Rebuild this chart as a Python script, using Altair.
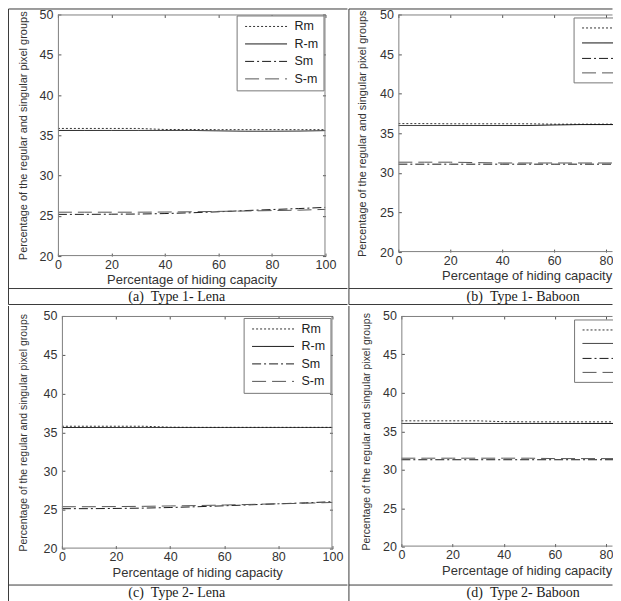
import altair as alt
import pandas as pd

# ---------------- data ----------------
x_vals = [0, 10, 20, 30, 40, 50, 60, 70, 80, 90, 100]
series_names = ["Rm", "R-m", "Sm", "S-m"]
x_ticks = [0, 20, 40, 60, 80, 100]
y_ticks = [20, 25, 30, 35, 40, 45, 50]

a_Rm = [35.85, 35.85, 35.85, 35.85, 35.72, 35.72, 35.70, 35.70, 35.70, 35.70, 35.70]
a_Rmm = [35.60, 35.60, 35.60, 35.60, 35.60, 35.60, 35.55, 35.50, 35.50, 35.52, 35.58]
a_Sm = [25.18, 25.18, 25.20, 25.22, 25.28, 25.38, 25.50, 25.65, 25.78, 25.90, 26.05]
a_Smm = [25.45, 25.45, 25.45, 25.45, 25.47, 25.50, 25.55, 25.60, 25.65, 25.70, 25.80]

b_Rm = [36.22, 36.22, 36.20, 36.20, 36.20, 36.20, 36.15, 36.15, 36.15, 36.15, 36.15]
b_Rmm = [35.98, 35.98, 35.98, 35.98, 35.98, 35.98, 36.05, 36.10, 36.10, 36.10, 36.10]
b_Sm = [31.10, 31.10, 31.10, 31.10, 31.10, 31.10, 31.10, 31.10, 31.10, 31.10, 31.10]
b_Smm = [31.35, 31.35, 31.35, 31.30, 31.25, 31.25, 31.25, 31.25, 31.25, 31.25, 31.25]

c_Rm = [35.78, 35.78, 35.78, 35.78, 35.66, 35.64, 35.64, 35.64, 35.64, 35.64, 35.64]
c_Rmm = [35.62, 35.62, 35.62, 35.62, 35.62, 35.62, 35.62, 35.62, 35.62, 35.62, 35.62]
c_Sm = [25.15, 25.15, 25.18, 25.22, 25.30, 25.40, 25.52, 25.65, 25.78, 25.90, 26.05]
c_Smm = [25.40, 25.40, 25.42, 25.45, 25.50, 25.55, 25.62, 25.70, 25.78, 25.85, 25.95]

d_Rm = [36.36, 36.36, 36.36, 36.36, 36.25, 36.23, 36.23, 36.23, 36.23, 36.23, 36.23]
d_Rmm = [36.02, 36.02, 36.02, 36.02, 36.02, 36.02, 36.02, 36.02, 36.02, 36.02, 36.02]
d_Sm = [31.30, 31.30, 31.30, 31.30, 31.30, 31.30, 31.30, 31.30, 31.30, 31.30, 31.30]
d_Smm = [31.50, 31.50, 31.50, 31.50, 31.50, 31.50, 31.45, 31.45, 31.45, 31.45, 31.45]

captions = [
    "(a)\u00a0\u00a0Type 1- Lena",
    "(b)\u00a0\u00a0Type 1- Baboon",
    "(c)\u00a0\u00a0Type 2- Lena",
    "(d)\u00a0\u00a0Type 2- Baboon",
]
x_title = "Percentage of hiding capacity"
y_title = "Percentage of the regular and singular pixel groups"

FONT = "Liberation Sans"
SERIF = "Liberation Serif"
TXT = "#333333"
FRAME = "#808080"
CELL = "#3a3a3a"
line_colors = ["#333333", "#111111", "#1a1a1a", "#555555"]
line_dashes = [[2, 2], [1, 0], [9, 3, 2, 3], [14, 6]]

ONE = alt.Data(values=[{}])


def make_df(rm, rmm, sm, smm):
    rows = []
    for name, vals in zip(series_names, [rm, rmm, sm, smm]):
        for xv, v in zip(x_vals, vals):
            rows.append({"x": xv, "v": v, "s": name})
    return pd.DataFrame(rows)


def rule_h(y, x1, x2, color=CELL, visible=True, dash=None, clip=False):
    kw = dict(color=color, strokeWidth=1, strokeOpacity=1 if visible else 0, clip=clip)
    if dash is not None:
        kw["strokeDash"] = dash
    return alt.Chart(ONE).mark_rule(**kw).encode(
        y=alt.value(y), x=alt.value(x1), x2=alt.value(x2))


def rule_v(x, y1, y2, color=CELL, visible=True):
    return alt.Chart(ONE).mark_rule(
        color=color, strokeWidth=1, strokeOpacity=1 if visible else 0
    ).encode(x=alt.value(x), y=alt.value(y1), y2=alt.value(y2))


def make_legend(lx, ly):
    return alt.Legend(
        orient="none", legendX=lx, legendY=ly, title=None,
        symbolType="stroke", symbolSize=1764, symbolStrokeWidth=1,
        clipHeight=12, rowPadding=4.5, padding=5, symbolOffset=3,
        labelOffset=7, labelFont=FONT, labelFontSize=12.5, labelColor="#222222",
        strokeColor="#777777", fillColor="white",
    )


def panel(df, W, H, x0, xmax, frame, caption, cap_xy, cap_fs, full, top_visible,
          ytitle_fs, ytitle_pad, legend_xy=None, manual_legend=None, title_x=None):
    """W, H: view size; x0: pixel where the data rectangle starts inside the view."""
    L, R, T, CT, CB = frame
    xs = alt.Scale(domain=[0, xmax], range=[x0, W], nice=False, zero=False)
    ys = alt.Scale(domain=[20, 50], nice=False, zero=False)
    xt = [t for t in x_ticks if t <= xmax]

    bx = dict(orient="bottom", values=xt, format="d", domain=False, grid=False,
              tickSize=3, tickColor="#555555", offset=-3, labelPadding=2, labelFlush=False,
              labelFont=FONT, labelFontSize=12.5, labelColor=TXT,
              title=x_title, titleFont=FONT, titleFontSize=13, titleFontWeight="normal",
              titleColor=TXT, titlePadding=3)
    if title_x is not None:
        bx["titleX"] = title_x
    ly = dict(orient="left", values=y_ticks, format="d", domain=False, grid=False,
              tickSize=3, tickColor="#555555", offset=-3 - x0, labelPadding=5, labelFlush=False,
              labelFont=FONT, labelFontSize=12.5, labelColor=TXT,
              title=y_title, titleFont=FONT, titleFontSize=ytitle_fs, titleFontWeight="normal",
              titleColor=TXT, titlePadding=ytitle_pad)

    leg = make_legend(*legend_xy) if legend_xy is not None else None
    color_kw = dict(scale=alt.Scale(domain=series_names, range=line_colors), legend=leg)
    dash_kw = dict(scale=alt.Scale(domain=series_names, range=line_dashes), legend=leg)

    lines = alt.Chart(df).mark_line(strokeWidth=1, clip=True).encode(
        x=alt.X("x:Q", scale=xs, axis=alt.Axis(**bx)),
        y=alt.Y("v:Q", scale=ys, axis=alt.Axis(**ly)),
        color=alt.Color("s:N", **color_kw),
        strokeDash=alt.StrokeDash("s:N", **dash_kw),
    )
    mirror_enc = dict(
        x=alt.X("x:Q", scale=xs, axis=alt.Axis(
            orient="top", values=xt, labels=False, title=None, domain=False, grid=False,
            tickSize=3, tickColor="#555555", offset=-3)),
    )
    if full:
        mirror_enc["y"] = alt.Y("v:Q", scale=ys, axis=alt.Axis(
            orient="right", values=y_ticks, labels=False, title=None, domain=False, grid=False,
            tickSize=3, tickColor="#555555", offset=-3))
    else:
        mirror_enc["y"] = alt.Y("v:Q", scale=ys, axis=None)
    mirror = alt.Chart(df).mark_point(opacity=0, clip=True).encode(**mirror_enc)

    layers = [lines, mirror]

    # box around the data rectangle
    xr = W - 0.5
    layers += [
        rule_h(0.5, x0, xr, color=FRAME),
        rule_h(H - 0.5, x0, xr, color=FRAME),
        rule_v(x0 + 0.5, 0, H, color=FRAME),
    ]
    if full:
        layers.append(rule_v(W - 0.5, 0, H, color=FRAME))

    # legend of the panels cut by the page edge (cropped with the plot)
    if manual_legend is not None:
        lbx, lby1, lby2, lys, llx = manual_legend
        layers.append(
            alt.Chart(ONE).mark_rect(fill="white", stroke="#777777", strokeWidth=1, clip=True)
            .encode(x=alt.value(lbx), x2=alt.value(W + 20), y=alt.value(lby1), y2=alt.value(lby2))
        )
        for yy, col, dsh in zip(lys, line_colors, line_dashes):
            layers.append(rule_h(yy, llx, W + 20, color=col, dash=dsh, clip=True))

    # caption
    layers.append(
        alt.Chart(ONE).mark_text(
            font=SERIF, fontSize=cap_fs, color="#1a1a1a", align="center", baseline="middle"
        ).encode(x=alt.value(cap_xy[0]), y=alt.value(cap_xy[1]), text=alt.value(caption))
    )

    # table cell borders
    right_end = R if full else W - 0.5
    layers += [
        rule_h(T, L, right_end, visible=top_visible),
        rule_v(L, T, CB if CB is not None else CT + 20),
        rule_h(CT, L, right_end),
    ]
    if full:
        layers.append(rule_v(R, T, CT, visible=False))
    if CB is not None:
        layers.append(rule_h(CB, L, right_end))

    return alt.layer(*layers).resolve_axis(x="independent", y="independent").properties(
        width=W, height=H)


# column 1 views start at page x 58, column 2 views at page x 398
pa = panel(make_df(a_Rm, a_Rmm, a_Sm, a_Smm), 268, 242, 0, 100,
           (-49.5, 290, -5.5, 274.5, 290.5), captions[0], (119, 282.5), 14, True, True,
           11, 11, legend_xy=(179, 1))
pb = panel(make_df(b_Rm, b_Rmm, b_Sm, b_Smm), 215, 238, 0, 82.69,
           (-49.5, None, -5.5, 274.5, 290.5), captions[1], (125, 282.5), 14, False, True,
           10.9, 12, manual_legend=(176, 3.5, 68.5, [13.5, 28.5, 44, 58.5], 184), title_x=128.5)
pc = panel(make_df(c_Rm, c_Rmm, c_Sm, c_Smm), 275, 233, 4, 100,
           (-49.5, 290, -10, 269.5, None), captions[2], (119, 277.5), 14, True, False,
           10.5, 15, legend_xy=(186, 2))
pd_ = panel(make_df(d_Rm, d_Rmm, d_Sm, d_Smm), 215, 231, 3, 82.73,
            (-49.5, None, -10, 269.5, None), captions[3], (125, 277.5), 14, False, False,
            10.5, 11, manual_legend=(176.5, 4, 66.5, [14, 27.5, 42.5, 56.5], 184.5), title_x=128.5)

row1 = alt.hconcat(pa, pb, spacing=0).resolve_scale(color="independent", strokeDash="independent")
row2 = alt.hconcat(pc, pd_, spacing=0).resolve_scale(color="independent", strokeDash="independent")

chart = alt.vconcat(row1, row2, spacing=0).resolve_scale(
    color="independent", strokeDash="independent"
).properties(padding=0, background="white").configure_view(stroke=None)

chart.save("out.html", embed_options={"renderer": "svg", "actions": False})
